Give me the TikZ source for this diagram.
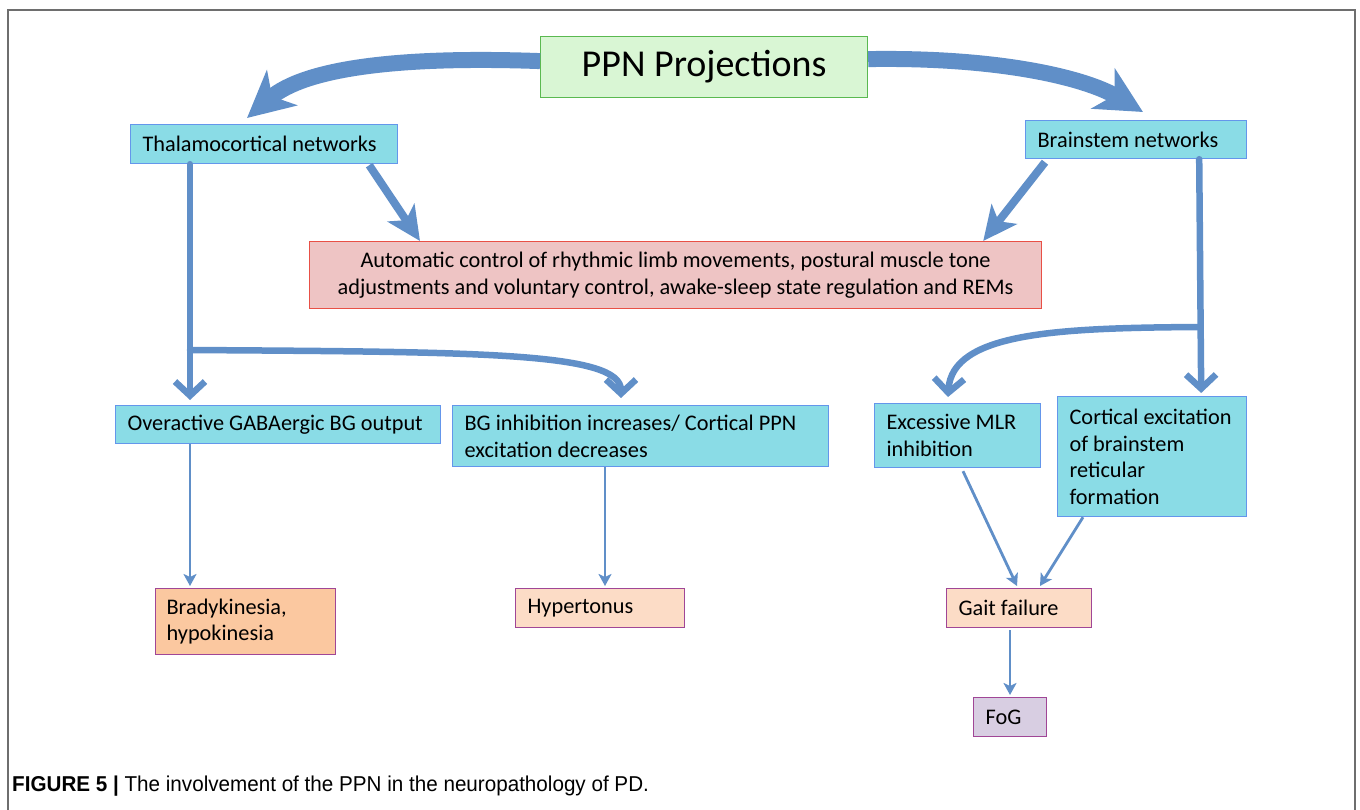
\documentclass[tikz,border=0pt]{standalone}
\usepackage{fontspec}
\setmainfont{Carlito}
\newfontfamily\capfont[FakeStretch=0.96]{Liberation Sans}
\usetikzlibrary{arrows.meta}
\definecolor{arrowc}{RGB}{96,143,200}
\definecolor{cyanfill}{RGB}{138,220,230}
\definecolor{cyanline}{RGB}{100,150,235}
\definecolor{greenfill}{RGB}{217,246,212}
\definecolor{greenline}{RGB}{90,185,80}
\definecolor{redfill}{RGB}{238,196,196}
\definecolor{redline}{RGB}{232,80,70}
\definecolor{orangefill}{RGB}{251,200,160}
\definecolor{peachfill}{RGB}{252,220,198}
\definecolor{purpleline}{RGB}{160,70,150}
\definecolor{lilacfill}{RGB}{216,206,226}
\definecolor{framec}{RGB}{110,110,110}
\newcommand{\bodyfont}{\fontsize{22.3}{26.5}\selectfont}
\begin{document}
\begin{tikzpicture}[x=1pt,y=-1pt,
  box/.style={draw, line width=1.2pt, inner xsep=12pt, inner ysep=0pt, anchor=north west, align=flush left, font=\bodyfont},
  cyanbox/.style={box, fill=cyanfill, draw=cyanline},
  peachbox/.style={box, fill=peachfill, draw=purpleline},
  bigarrow/.style={draw=arrowc, line width=16pt, -{Stealth[length=46pt,width=46pt,inset=13pt]}},
  midarrow/.style={draw=arrowc, line width=8pt, -{Stealth[length=34pt,width=32pt,inset=9pt]}},
  brancharrow/.style={draw=arrowc, line width=6.5pt, line cap=round, line join=round, -{Straight Barb[length=14pt,width=30pt]}},
  thinarrow/.style={draw=arrowc, line width=2.8pt, -{Stealth[length=12pt,width=13pt,inset=3pt]}}
]
\useasboundingbox (0,0) rectangle (1360,810);
% frame
\draw[framec, line width=2pt] (8,812) -- (8,10) -- (1355,10) -- (1355,812);

% nodes
\node[box, fill=greenfill, draw=greenline, minimum width=327pt, minimum height=61pt, align=center, font=\fontsize{38}{40}\selectfont] (ppn) at (540,36) {PPN Projections};
\node[cyanbox, minimum width=267pt, minimum height=39pt, text width=243pt] (thal) at (130,124) {Thalamocortical networks};
\node[cyanbox, minimum width=221pt, minimum height=38pt, text width=197pt] (brain) at (1025,120) {Brainstem networks};
\node[box, fill=redfill, draw=redline, minimum width=732pt, minimum height=67pt, align=center] (auto) at (309,241) {Automatic control of rhythmic limb movements, postural muscle tone\\adjustments and voluntary control, awake-sleep state regulation and REMs};
\node[cyanbox, minimum width=325pt, minimum height=38pt, text width=301pt] (over) at (115,405) {Overactive GABAergic BG output};
\node[cyanbox, minimum width=376pt, minimum height=61pt, text width=352pt] (bginh) at (452,405) {BG inhibition increases/ Cortical PPN\\excitation decreases};
\node[cyanbox, minimum width=166pt, minimum height=64pt, text width=142pt] (mlr) at (874,403) {Excessive MLR\\inhibition};
\node[cyanbox, minimum width=189pt, minimum height=120pt, text width=165pt] (cort) at (1057,396) {Cortical excitation\\of brainstem\\reticular\\formation};
\node[box, fill=orangefill, draw=purpleline, minimum width=180pt, minimum height=66pt, text width=158pt, inner xsep=11pt] (brady) at (155,588) {Bradykinesia,\\hypokinesia};
\node[peachbox, minimum width=169pt, minimum height=39pt, text width=145pt] (hyper) at (515,588) {Hypertonus};
\node[peachbox, minimum width=145pt, minimum height=39pt, text width=121pt] (gait) at (946,588) {Gait failure};
\node[box, fill=lilacfill, draw=purpleline, minimum width=73pt, minimum height=39pt, text width=49pt] (fog) at (973,697) {FoG};

% caption
\node[anchor=base west, inner sep=0pt, font=\capfont\fontsize{21.5}{24}\selectfont] (cap) at (12,791) {\textbf{FIGURE 5 |} The involvement of the PPN in the neuropathology of PD.};

% big arrows
\draw[bigarrow] ([yshift=6pt]ppn.west) .. controls (400,56) and (305,68) .. (247,118);
\draw[bigarrow] ([yshift=8pt]ppn.east) .. controls (1000,57) and (1085,78) .. (1143,112);

% medium arrows to the red box
\draw[midarrow] ([xshift=-29pt,yshift=-1pt]thal.south east) -- ([xshift=111pt]auto.north west);
\draw[midarrow] ([xshift=20pt,yshift=-3pt]brain.south west) -- ([xshift=-59pt]auto.north east);

% thalamocortical branches
\coordinate (j1) at (190,350);
\draw[brancharrow] ([xshift=60pt]thal.south west) -- ([xshift=75pt,yshift=5pt]over.north west);
\draw[brancharrow] (j1) .. controls (480,352) and (621,352) .. ([xshift=169pt,yshift=7pt]bginh.north west);

% brainstem branches
\coordinate (j2) at (1198,327);
\draw[brancharrow] ([xshift=-48pt]brain.south east) -- ([xshift=-46pt,yshift=3pt]cort.north east);
\draw[brancharrow] (j2) .. controls (1060,328) and (952,332) .. ([xshift=74pt,yshift=6pt]mlr.north west);

% thin arrows
\draw[thinarrow] ([xshift=75pt]over.south west) -- ([xshift=35pt,yshift=2pt]brady.north west);
\draw[thinarrow] ([xshift=153pt]bginh.south west) -- ([xshift=90pt,yshift=2pt]hyper.north west);
\draw[thinarrow] ([xshift=89pt,yshift=-3pt]mlr.south west) -- ([xshift=71pt,yshift=2pt]gait.north west);
\draw[thinarrow] ([xshift=26pt]cort.south west) -- ([xshift=94pt,yshift=2pt]gait.north west);
\draw[thinarrow] ([xshift=64pt,yshift=-2pt]gait.south west) -- ([xshift=37pt,yshift=2pt]fog.north west);
\end{tikzpicture}
\end{document}
